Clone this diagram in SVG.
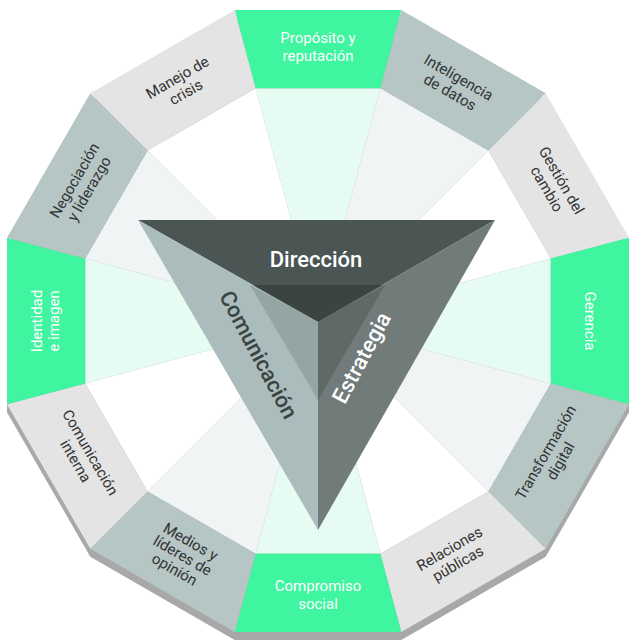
<svg xmlns="http://www.w3.org/2000/svg" width="636" height="643" viewBox="0 0 636 643">
<style>
.g{fill:#3ff5a0}.t{fill:#b5c6c5}.l{fill:#e4e4e4}
text{font-family:Roboto,"Liberation Sans",sans-serif;text-anchor:middle}
.lb{font-size:15px;fill:#333}.lw{font-size:15px;fill:#fff}
.big{font-size:22px;font-weight:500}
</style>
<rect width="636" height="643" fill="#fff"/>
<polygon points="234.7,18 401.3,18 545.7,101.3 629,245.7 629,412.3 545.7,556.7 401.3,640 234.7,640 90.3,556.7 7,412.3 7,245.7 90.3,101.3" fill="#a8a8a8"/>
<g id="rays">
<polygon points="318,321 255.6,88.2 380.4,88.2" fill="#e6fbf1"/>
<polygon points="318,321 380.4,88.2 488.4,150.6" fill="#f1f4f4"/>
<polygon points="318,321 488.4,150.6 550.8,258.6" fill="#fff"/>
<polygon points="318,321 550.8,258.6 550.8,383.4" fill="#e6fbf1"/>
<polygon points="318,321 550.8,383.4 488.4,491.4" fill="#f1f4f4"/>
<polygon points="318,321 488.4,491.4 380.4,553.8" fill="#fff"/>
<polygon points="318,321 380.4,553.8 255.6,553.8" fill="#e6fbf1"/>
<polygon points="318,321 255.6,553.8 147.6,491.4" fill="#f1f4f4"/>
<polygon points="318,321 147.6,491.4 85.2,383.4" fill="#fff"/>
<polygon points="318,321 85.2,383.4 85.2,258.6" fill="#e6fbf1"/>
<polygon points="318,321 85.2,258.6 147.6,150.6" fill="#f1f4f4"/>
<polygon points="318,321 147.6,150.6 255.6,88.2" fill="#fff"/>
</g>
<g id="s0"><polygon class="g" points="234.7,10 401.3,10 380.4,88.2 255.6,88.2"/><text class="lw" transform="translate(318,49)"><tspan x="0" y="-6">Propósito y</tspan><tspan x="0" y="12">reputación</tspan></text></g>
<g id="s1"><polygon class="t" points="401.3,10 545.7,93.3 488.4,150.6 380.4,88.2"/><text class="lb" transform="translate(454,85.4) rotate(30)"><tspan x="0" y="-4">Inteligencia</tspan><tspan x="0" y="13">de datos</tspan></text></g>
<g id="s2"><polygon class="l" points="545.7,93.3 629,237.7 550.8,258.6 488.4,150.6"/><text class="lb" transform="translate(553.6,185) rotate(60)"><tspan x="0" y="-4">Gestión del</tspan><tspan x="0" y="13">cambio</tspan></text></g>
<g id="s3"><polygon class="g" points="629,237.7 629,404.3 550.8,383.4 550.8,258.6"/><text class="lw" transform="translate(590,321) rotate(90)" y="5">Gerencia</text></g>
<g id="s4"><polygon class="t" points="629,404.3 545.7,548.7 488.4,491.4 550.8,383.4"/><text class="lb" transform="translate(553.6,457) rotate(-60)"><tspan x="0" y="-4">Transformación</tspan><tspan x="0" y="13">digital</tspan></text></g>
<g id="s5"><polygon class="l" points="545.7,548.7 401.3,632 380.4,553.8 488.4,491.4"/><text class="lb" transform="translate(454,556.6) rotate(-30)"><tspan x="0" y="-4">Relaciones</tspan><tspan x="0" y="13">públicas</tspan></text></g>
<g id="s6"><polygon class="g" points="401.3,632 234.7,632 255.6,553.8 380.4,553.8"/><text class="lw" transform="translate(318,593)"><tspan x="0" y="-2">Compromiso</tspan><tspan x="0" y="16">social</tspan></text></g>
<g id="s7"><polygon class="t" points="234.7,632 90.3,548.7 147.6,491.4 255.6,553.8"/><text class="lb" transform="translate(182,556.6) rotate(30)"><tspan x="0" y="-12">Medios y</tspan><tspan x="0" y="4">líderes de</tspan><tspan x="0" y="20">opinión</tspan></text></g>
<g id="s8"><polygon class="l" points="90.3,548.7 7,404.3 85.2,383.4 147.6,491.4"/><text class="lb" transform="translate(82.4,457) rotate(60)"><tspan x="0" y="-4">Comunicación</tspan><tspan x="0" y="13">interna</tspan></text></g>
<g id="s9"><polygon class="g" points="7,404.3 7,237.7 85.2,258.6 85.2,383.4"/><text class="lw" transform="translate(46,321) rotate(-90)"><tspan x="0" y="-4">Identidad</tspan><tspan x="0" y="13">e imagen</tspan></text></g>
<g id="s10"><polygon class="t" points="7,237.7 90.3,93.3 147.6,150.6 85.2,258.6"/><text class="lb" transform="translate(82.4,185) rotate(-60)"><tspan x="0" y="-4">Negociación</tspan><tspan x="0" y="13">y liderazgo</tspan></text></g>
<g id="s11"><polygon class="l" points="90.3,93.3 234.7,10 255.6,88.2 147.6,150.6"/><text class="lb" transform="translate(182,85.4) rotate(-30)"><tspan x="0" y="-4">Manejo de</tspan><tspan x="0" y="13">crisis</tspan></text></g>
<g id="pyramid">
<polygon points="138,220 495,220 318,322" fill="#4b5553"/>
<polygon points="250,285 385,285 318,322" fill="#3c4442"/>
<polygon points="138,220 318,322 318,530" fill="#aabcbb"/>
<polygon points="250,285 318,322 318,400" fill="#95a5a4"/>
<polygon points="495,220 318,322 318,530" fill="#717c7a"/>
<polygon points="385,285 318,322 318,400" fill="#5f6968"/>
<text class="big" x="316" y="267" fill="#fff">Dirección</text>
<text class="big" fill="#3a4442" transform="translate(258,355) rotate(62)" y="7">Comunicación</text>
<text class="big" fill="#fff" transform="translate(362,358) rotate(-62)" y="7">Estrategia</text>
</g>
</svg>
